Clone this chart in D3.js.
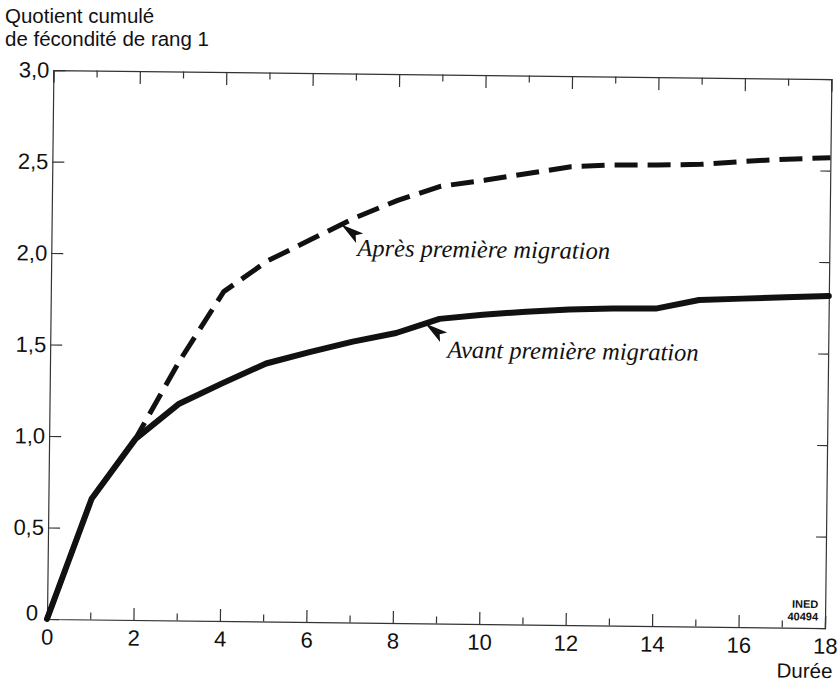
<!DOCTYPE html>
<html><head><meta charset="utf-8">
<script src="https://cdn.jsdelivr.net/npm/d3@7"></script>
<style>body{margin:0;background:#fff}svg{display:block}</style>
</head><body><svg id="c" width="838" height="683"></svg>
<script>
// ---- data ----
const durations = [0,1,2,3,4,5,6,7,8,9,10,11,12,13,14,15,16,17,18];
const avantMigration = [0,0.66,0.99,1.185,1.30,1.41,1.475,1.535,1.585,1.665,1.69,1.71,1.725,1.733,1.735,1.785,1.795,1.805,1.815];
const apresMigration = [0,0.66,0.99,1.42,1.80,1.97,2.09,2.21,2.31,2.39,2.425,2.465,2.505,2.517,2.52,2.526,2.545,2.56,2.57];
const yTickValues = [0,0.5,1,1.5,2,2.5,3];
const yTickLabels = ["0","0,5","1,0","1,5","2,0","2,5","3,0"];
const xTickValues = durations;
const xTickLabels = ["0","","2","","4","","6","","8","","10","","12","","14","","16","","18"];
const seriesNames = ["Avant première migration","Après première migration"];
const labelAnchorX = [9.19, 7.08];   // duration where each label starts
const labelAnchorY = [1.453, 2.003]; // value at label baseline
const arrowX = [8.67, 6.70];          // duration the arrow points to
const yTitle = ["Quotient cumulé","de fécondité de rang 1"];
const xTitle = "Durée";
const sourceNote = ["INED","40494"];

// ---- layout ----
const X0 = 47, X1 = 825, Y0 = 619, Y1 = 70;
const sans = "'Liberation Sans', Arial, Helvetica, sans-serif";
const serif = "'Liberation Serif', 'Times New Roman', serif";
const ink = "#111";

const svg = d3.select("#c");
const x = d3.scaleLinear().domain([0,18]).range([X0,X1]);
const y = d3.scaleLinear().domain([0,3]).range([Y0,Y1]);

// title (outside rotated scan frame)
svg.selectAll("text.ytitle").data(yTitle).join("text")
  .attr("class","ytitle")
  .attr("x",5).attr("y",(d,i)=>23+i*23)
  .attr("font-family",sans).attr("font-size",20.5).attr("fill",ink)
  .text(d=>d);

// the scanned figure is slightly rotated
const g = svg.append("g").attr("transform",`rotate(0.67,${X0},${Y0})`);

function styleAxis(sel){
  sel.select(".domain").attr("stroke","#333").attr("stroke-width",1.2);
  sel.selectAll(".tick line").attr("stroke","#333").attr("stroke-width",1.2);
  sel.selectAll("text").attr("font-family",sans).attr("font-size",22).attr("fill",ink);
}

// bottom axis
const ax = g.append("g").attr("transform",`translate(0,${Y0})`)
  .call(d3.axisBottom(x).tickValues(xTickValues).tickSizeOuter(0).tickSize(-12).tickPadding(10)
    .tickFormat((d,i)=>xTickLabels[i]));
ax.selectAll(".tick line").attr("y2",(d)=> d%2===0 ? -12 : -7);
styleAxis(ax);

// top axis
const at = g.append("g").attr("transform",`translate(0,${Y1})`)
  .call(d3.axisTop(x).tickValues(xTickValues).tickSizeOuter(0).tickSize(-12).tickFormat(""));
at.selectAll(".tick line").attr("y2",(d)=> d%2===0 ? 13 : 7);
styleAxis(at);

// left axis
const al = g.append("g").attr("transform",`translate(${X0},0)`)
  .call(d3.axisLeft(y).tickValues(yTickValues).tickSizeOuter(0).tickSize(-12).tickPadding(4)
    .tickFormat((d,i)=>yTickLabels[i]));
al.selectAll(".tick").filter(d=>d===0||d===3).select("line").remove();
styleAxis(al);
al.selectAll(".tick").filter(d=>d===0).select("text").attr("x",-9).attr("dy","0.05em");

// right axis
const ar = g.append("g").attr("transform",`translate(${X1},0)`)
  .call(d3.axisRight(y).tickValues(yTickValues).tickSizeOuter(0).tickSize(-10).tickFormat(""));
ar.selectAll(".tick").filter(d=>d===0||d===3).select("line").remove();
styleAxis(ar);

// x title
g.append("text").attr("x",X0+786).attr("y",Y0+50)
  .attr("text-anchor","end").attr("font-family",sans).attr("font-size",20.5).attr("fill",ink)
  .text(xTitle);

// source note
g.selectAll("text.src").data(sourceNote).join("text").attr("class","src")
  .attr("x",X1-7).attr("y",(d,i)=>Y0-20+i*12.5)
  .attr("text-anchor","end").attr("font-family",sans).attr("font-size",11)
  .attr("font-weight",600).attr("fill",ink).text(d=>d);

// lines
const line = d3.line().x(d=>x(d[0])).y(d=>y(d[1]));
const apresPts = durations.map((d,i)=>[d,apresMigration[i]]);
const avantPts = durations.map((d,i)=>[d,avantMigration[i]]);
g.append("path").datum(apresPts).attr("d",line)
  .attr("fill","none").attr("stroke",ink).attr("stroke-width",5)
  .attr("stroke-dasharray","23,10").attr("stroke-linejoin","round");
g.append("path").datum(avantPts).attr("d",line)
  .attr("fill","none").attr("stroke",ink).attr("stroke-width",6)
  .attr("stroke-linejoin","round").attr("stroke-linecap","round");

// annotations
const interp = (arr, t) => { const i=Math.floor(t), f=t-i; return arr[i]+(arr[Math.min(i+1,arr.length-1)]-arr[i])*f; };
const seriesVals = [avantMigration, apresMigration];
seriesNames.forEach((name,k)=>{
  const tx = x(arrowX[k]), ty = y(interp(seriesVals[k], arrowX[k]));
  g.append("path")
    .attr("d","M0,0 L23,-6 L18,0 L23,6 Z")
    .attr("transform",`translate(${tx},${ty}) rotate(36)`)
    .attr("fill",ink);
  g.append("text").attr("x",x(labelAnchorX[k])).attr("y",y(labelAnchorY[k]))
    .attr("font-family",serif).attr("font-style","italic").attr("font-size",24.5)
    .attr("fill",ink).text(name);
});
</script>
</body></html>
